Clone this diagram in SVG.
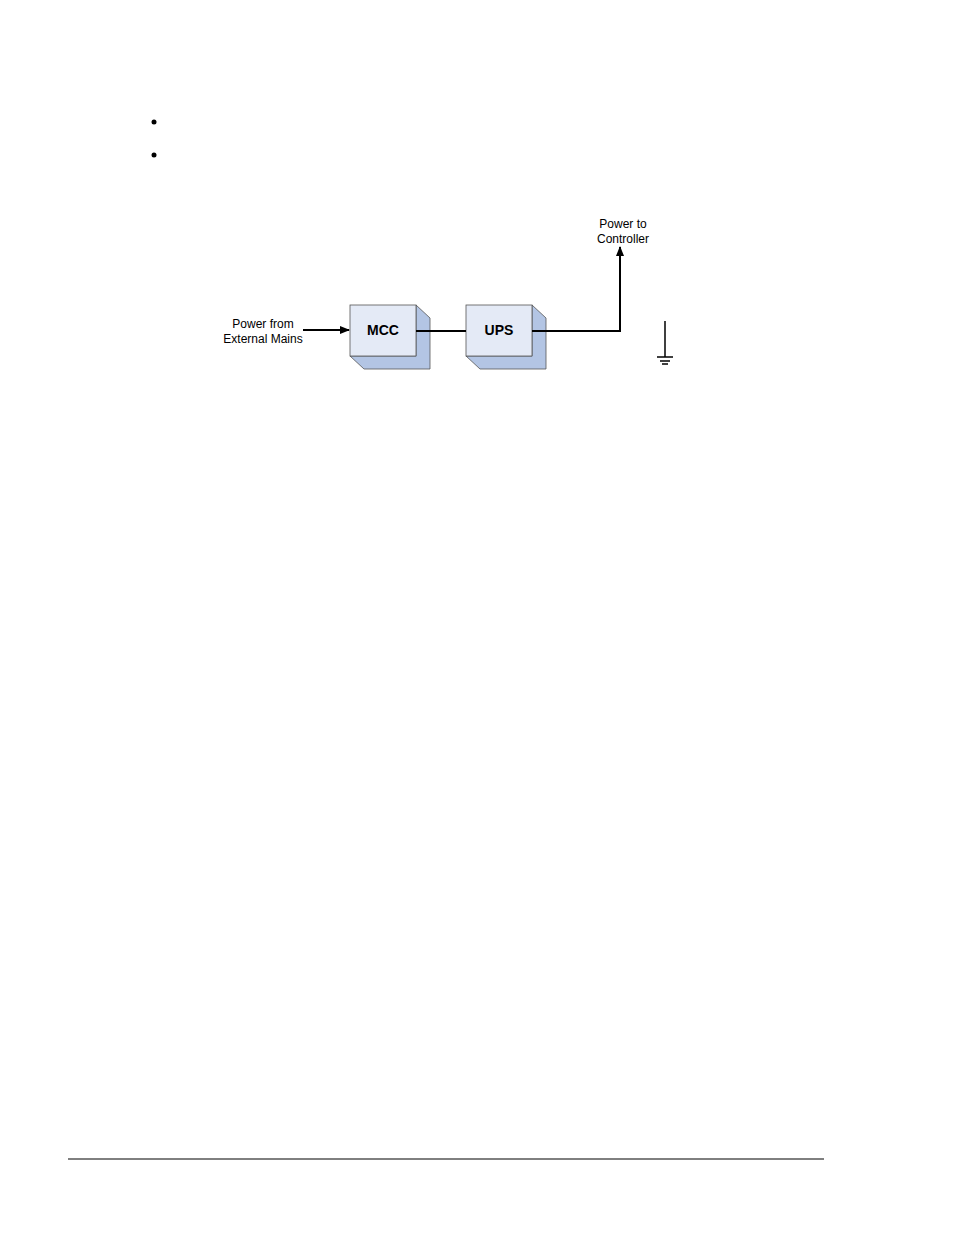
<svg xmlns="http://www.w3.org/2000/svg" width="954" height="1235" viewBox="0 0 954 1235">
<style>
.t{font-family:"Liberation Sans",Arial,sans-serif;font-size:12px;fill:#000;text-anchor:middle}
.b{font-family:"Liberation Sans",Arial,sans-serif;font-size:14px;font-weight:bold;fill:#000;text-anchor:middle}
.front{fill:#e4eaf6;stroke:#555;stroke-width:0.8}
.side{fill:#b3c5e4;stroke:#555;stroke-width:0.8}
.w{stroke:#000;stroke-width:2;fill:none}
</style>
<defs><marker id="a" markerWidth="10" markerHeight="8" refX="9" refY="4" orient="auto" markerUnits="userSpaceOnUse"><path d="M0,0 L10,4 L0,8 z" fill="#000"/></marker></defs>
<rect width="954" height="1235" fill="#fff"/>
<circle cx="154" cy="122" r="2.5" fill="#000"/>
<circle cx="154" cy="155" r="2.5" fill="#000"/>
<g id="MCC">
<path class="side" d="M416,305 L430,318 L430,369 L364,369 L350,356 L416,356 Z"/>
<rect class="front" x="350" y="305" width="66" height="51"/>
<text class="b" x="383" y="335">MCC</text>
</g>
<g id="UPS">
<path class="side" d="M532,305 L546,318 L546,369 L480,369 L466,356 L532,356 Z"/>
<rect class="front" x="466" y="305" width="66" height="51"/>
<text class="b" x="499" y="335">UPS</text>
</g>
<g id="labels">
<text class="t" x="263" y="328">Power from</text>
<text class="t" x="263" y="343">External Mains</text>
<text class="t" x="623" y="228">Power to</text>
<text class="t" x="623" y="243">Controller</text>
</g>
<g id="ground" stroke="#000" stroke-width="1.5">
<line x1="665" y1="321" x2="665" y2="357"/>
<line x1="657" y1="357" x2="673" y2="357"/>
<line x1="660" y1="361" x2="670" y2="361"/>
<line x1="662" y1="364" x2="668" y2="364"/>
</g>
<g id="connectors">
<line class="w" x1="303" y1="330" x2="349" y2="330" marker-end="url(#a)"/>
<line class="w" x1="416" y1="331" x2="466" y2="331"/>
<polyline class="w" points="532,331 620,331 620,247" marker-end="url(#a)"/>
</g>
<line x1="68" y1="1159" x2="824" y2="1159" stroke="#000" stroke-width="1"/>
</svg>
